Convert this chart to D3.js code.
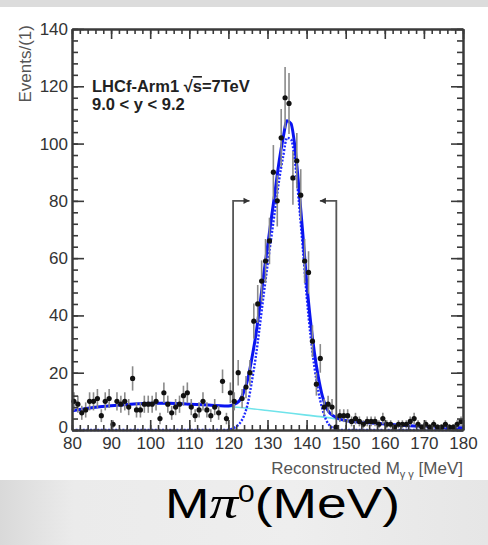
<!DOCTYPE html>
<html lang="en">
<head>
<meta charset="UTF-8">
<title>LHCf pi0 mass</title>
<style>
    body { margin: 0; padding: 0; background: #fff; }
    svg { display: block; }
    .tick text { font-family: "Liberation Sans", Arial, sans-serif; font-size: 17px; fill: #333; }
</style>
</head>
<body>
<svg id="chart" width="488" height="545"></svg>
<script src="https://d3js.org/d3.v7.min.js"></script>
<script>
// ---- data ----
var binStart = 80, binWidth = 1;
var counts = [
    10, 9, 6, 7, 10, 10, 11, 5, 10, 11,
    2, 10, 9, 10, 8, 18, 7, 7, 9, 9,
    9, 10, 4, 13, 9, 6, 8, 9, 12, 13,
    8, 5, 7, 10, 7, 5, 8, 6, 17, 4,
    13, 10, 20, 11, 15, 20, 38, 44, 52, 59,
    66, 90, 80, 102, 116, 114, 88, 94, 82, 59,
    55, 31, 16, 25, 8, 9, 8, 1, 5, 5,
    5, 3, 4, 3, 2, 3, 3, 3, 2, 4,
    2, 2, 1, 2, 2, 2, 3, 4, 2, 1,
    2, 1, 2, 1, 1, 2, 1, 1, 2, 3
];

// total fit (solid blue)
var fitX = [80, 85, 90, 95, 100, 105, 110, 115, 119, 120,
    121, 122, 123, 124, 125, 126, 127, 128, 129, 130, 131, 132, 133, 134,
    135, 136, 137, 138, 139, 140, 141, 142, 143, 144, 145, 146, 147, 148,
    150, 155, 160, 165, 170, 175, 180];
var fitTotal = [6.7, 7.8, 8.5, 9.0, 9.3, 9.3, 9.0, 8.7, 8.4, 8.4,
    8.7, 9.3, 10.5, 13.5, 18, 25, 33, 43, 54, 64, 74, 84, 94, 102,
    108, 107, 99, 85, 69, 52, 38, 27, 18.5, 12, 8, 5.8, 4.8, 4.1,
    3.3, 2.6, 2.1, 1.6, 1.2, 0.9, 0.8];

// signal component (dotted blue)
var sigX = [80, 120, 121, 122, 123, 124, 125, 126, 127, 128, 129, 130, 131, 132, 133, 134,
    135, 136, 137, 138, 139, 140, 141, 142, 143, 144, 145, 146, 147, 148, 180];
var sigY = [0, 0, 0.5, 1.2, 2.5, 5, 9.5, 17, 25.5, 36, 47, 57.5, 67.5, 77.5, 87.5, 95.5,
    102, 101.5, 94, 80, 64, 47, 33, 22, 13.5, 7.5, 3.5, 1.4, 0.5, 0, 0];

// background component (cyan)
var bgX = [80, 90, 100, 110, 120, 130, 140, 145, 150, 160, 170, 180];
var bgY = [6.7, 8.5, 9.3, 9.0, 8.2, 6.8, 5.2, 4.4, 3.3, 2.1, 1.2, 0.8];

// selection window markers
var windowX = [121.2, 147.6];
var windowLevel = 80;
var arrowLen = 4.2;

var xTicks = [80, 90, 100, 110, 120, 130, 140, 150, 160, 170, 180];
var yTicks = [0, 20, 40, 60, 80, 100, 120, 140];

// ---- layout ----
var svg = d3.select("#chart");
var W = 488, H = 545;

var x = d3.scaleLinear().domain([80, 180]).range([72, 463]);
var y = d3.scaleLinear().domain([0, 140]).range([430, 29]);

// backdrop: grey strips of the slide
var defs = svg.append("defs");
var grad = defs.append("linearGradient").attr("id", "bottomGrad");
grad.append("stop").attr("offset", "0%").attr("stop-color", "#d9d9d9");
grad.append("stop").attr("offset", "15%").attr("stop-color", "#ebebeb");
grad.append("stop").attr("offset", "60%").attr("stop-color", "#eeeeee");
grad.append("stop").attr("offset", "100%").attr("stop-color", "#e6e6e6");

svg.append("rect").attr("x", 0).attr("y", 0).attr("width", W).attr("height", 7).attr("fill", "#dcdcdc");
svg.append("rect").attr("x", 0).attr("y", 480).attr("width", W).attr("height", H - 480).attr("fill", "url(#bottomGrad)");

// ---- curves ----
var line = d3.line().curve(d3.curveMonotoneX);

svg.append("path")
    .attr("d", line(bgX.map(function (d, i) { return [x(d), y(bgY[i])]; })))
    .attr("fill", "none").attr("stroke", "#6fe3ea").attr("stroke-width", 1.6);

svg.append("path")
    .attr("d", line(sigX.map(function (d, i) { return [x(d), y(sigY[i])]; })))
    .attr("fill", "none").attr("stroke", "#1f2bff").attr("stroke-width", 2.4)
    .attr("stroke-dasharray", "2,1.6");

svg.append("path")
    .attr("d", line(fitX.map(function (d, i) { return [x(d), y(fitTotal[i])]; })))
    .attr("fill", "none").attr("stroke", "#0a14f0").attr("stroke-width", 3);

// ---- selection brackets ----
windowX.forEach(function (wx, i) {
    var dir = i === 0 ? 1 : -1;
    var tipX = wx + dir * arrowLen;
    svg.append("path")
        .attr("d", "M" + x(wx) + "," + y(0) + "V" + y(windowLevel) + "H" + x(tipX))
        .attr("fill", "none").attr("stroke", "#555").attr("stroke-width", 1.8);
    svg.append("path")
        .attr("d", "M" + x(tipX) + "," + y(windowLevel) +
            "l" + (-dir * 6) + ",-3.2v6.4z")
        .attr("fill", "#333");
});

// ---- data points ----
var pts = counts.map(function (c, i) { return {x: binStart + (i + 0.5) * binWidth, n: c}; });

var gData = svg.append("g");
gData.selectAll("line.err")
    .data(pts.filter(function (d) { return d.n > 0; }))
    .enter().append("line")
    .attr("class", "err")
    .attr("x1", function (d) { return x(d.x); })
    .attr("x2", function (d) { return x(d.x); })
    .attr("y1", function (d) { return y(d.n + Math.sqrt(d.n)); })   // Poisson errors
    .attr("y2", function (d) { return y(Math.max(0, d.n - Math.sqrt(d.n))); })
    .attr("stroke", "#8a8a8a").attr("stroke-width", 1.6);

gData.selectAll("circle")
    .data(pts)
    .enter().append("circle")
    .attr("cx", function (d) { return x(d.x); })
    .attr("cy", function (d) { return y(d.n); })
    .attr("r", 2.6)
    .attr("fill", "#111");

// ---- axes / frame ----
function styleAxis(g) {
    g.selectAll(".domain").attr("stroke", "#3a3a3a").attr("stroke-width", 2);
    g.selectAll(".tick line").attr("stroke", "#3a3a3a").attr("stroke-width", 1.6);
}

var minorX = d3.range(80, 181, 2);
var minorY = d3.range(0, 141, 4);

svg.append("g").attr("transform", "translate(0," + y(0) + ")")
    .call(d3.axisBottom(x).tickValues(minorX).tickSizeInner(-5).tickSizeOuter(0).tickFormat(""))
    .call(styleAxis);
svg.append("g").attr("transform", "translate(0," + y(0) + ")")
    .call(d3.axisBottom(x).tickValues(xTicks).tickSizeInner(-10).tickSizeOuter(0).tickPadding(7))
    .call(styleAxis);

svg.append("g").attr("transform", "translate(0," + y(140) + ")")
    .call(d3.axisTop(x).tickValues(minorX).tickSizeInner(-5).tickSizeOuter(0).tickFormat(""))
    .call(styleAxis);
svg.append("g").attr("transform", "translate(0," + y(140) + ")")
    .call(d3.axisTop(x).tickValues(xTicks).tickSizeInner(-10).tickSizeOuter(0).tickFormat(""))
    .call(styleAxis);

svg.append("g").attr("transform", "translate(" + x(80) + ",0)")
    .call(d3.axisLeft(y).tickValues(minorY).tickSizeInner(-6).tickSizeOuter(0).tickFormat(""))
    .call(styleAxis);
var yAxisG = svg.append("g").attr("transform", "translate(" + x(80) + ",0)")
    .call(d3.axisLeft(y).tickValues(yTicks).tickSizeInner(-12).tickSizeOuter(0).tickPadding(4))
    .call(styleAxis);
// lift the "0" a little so it clears the "80" below it
yAxisG.selectAll(".tick text").filter(function (d) { return d === 0; }).attr("y", -3);

svg.append("g").attr("transform", "translate(" + x(180) + ",0)")
    .call(d3.axisRight(y).tickValues(minorY).tickSizeInner(-6).tickSizeOuter(0).tickFormat(""))
    .call(styleAxis);
svg.append("g").attr("transform", "translate(" + x(180) + ",0)")
    .call(d3.axisRight(y).tickValues(yTicks).tickSizeInner(-12).tickSizeOuter(0).tickFormat(""))
    .call(styleAxis);

// ---- titles ----
var sans = "'Liberation Sans', Arial, sans-serif";

svg.append("text")
    .attr("transform", "translate(31,25) rotate(-90)")
    .attr("text-anchor", "end")
    .attr("font-family", sans).attr("font-size", 17).attr("fill", "#555")
    .text("Events/(1)");

var xt = svg.append("text")
    .attr("x", 463).attr("y", 474)
    .attr("text-anchor", "end")
    .attr("font-family", sans).attr("font-size", 17).attr("fill", "#555");
xt.append("tspan").text("Reconstructed M");
xt.append("tspan").attr("font-size", 11).attr("dy", 4).text("\u03b3 \u03b3");
xt.append("tspan").attr("dy", -4).text(" [MeV]");

var lab = svg.append("text")
    .attr("x", 92).attr("y", 92)
    .attr("font-family", sans).attr("font-size", 16.5).attr("font-weight", "bold").attr("fill", "#222");
lab.append("tspan").text("LHCf-Arm1 \u221A");
lab.append("tspan").attr("text-decoration", "overline").text("s");
lab.append("tspan").text("=7TeV");

svg.append("text")
    .attr("x", 92).attr("y", 110)
    .attr("font-family", sans).attr("font-size", 16.5).attr("font-weight", "bold").attr("fill", "#222")
    .text("9.0 < y < 9.2");

// big caption under the plot
var cap = svg.append("text")
    .attr("x", 0).attr("y", 0)
    .attr("font-family", sans).attr("font-size", 43).attr("fill", "#000");
cap.append("tspan").text("M");
cap.append("tspan").attr("font-family", "'Liberation Serif', serif").attr("font-style", "italic")
    .attr("font-size", 46).text("\u03c0");
cap.append("tspan").attr("font-size", 24).attr("dy", -16).text("0");
cap.append("tspan").attr("font-size", 43).attr("dy", 16).text("(MeV)");
var capW = cap.node().getComputedTextLength();
cap.attr("transform", "translate(165,518) scale(" + (235 / capW) + ",1)");
</script>
</body>
</html>
